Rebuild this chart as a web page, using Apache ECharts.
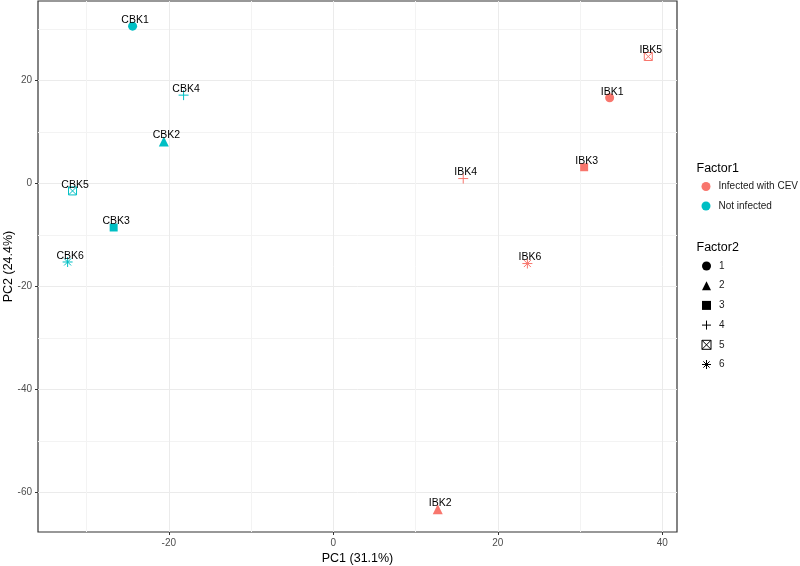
<!DOCTYPE html>
<html>
<head>
<meta charset="utf-8">
<script src="https://cdn.jsdelivr.net/npm/echarts@6/dist/echarts.min.js"></script>
<style>html,body{margin:0;padding:0;background:#fff}#c{width:800px;height:566px}</style>
</head>
<body>
<div id="c"></div>
<script>
// ---- data ----
const factor1Levels = ['Infected with CEV', 'Not infected'];
const factor1Colors = ['#F8766D', '#00BFC4'];
const factor2Levels = ['1', '2', '3', '4', '5', '6'];
const cbkNames = ['CBK1', 'CBK2', 'CBK3', 'CBK4', 'CBK5', 'CBK6'];
const cbkPC1 = [-24.4, -20.6, -26.7, -18.2, -31.7, -32.3];
const cbkPC2 = [30.6, 8.2, -8.5, 17.2, -1.4, -15.2];
const ibkNames = ['IBK1', 'IBK2', 'IBK3', 'IBK4', 'IBK5', 'IBK6'];
const ibkPC1 = [33.6, 12.7, 30.5, 15.8, 38.3, 23.6];
const ibkPC2 = [16.7, -63.2, 3.2, 1.0, 24.7, -15.5];
const xTicks = [-20, 0, 20, 40];
const yTicks = [-60, -40, -20, 0, 20];
const xTitle = 'PC1 (31.1%)';
const yTitle = 'PC2 (24.4%)';

// ---- shapes (ggplot pch 16,17,15,3,7,8) ----
const shapes = [
  { symbol: 'circle', size: 9, filled: true },
  { symbol: 'triangle', size: 10, filled: true },
  { symbol: 'rect', size: 8, filled: true },
  { symbol: 'path://M5,0L5,10M0,5L10,5', size: 10, filled: false },
  { symbol: 'path://M0,0L10,0L10,10L0,10ZM0,0L10,10M10,0L0,10', size: 8, filled: false },
  { symbol: 'path://M5,0L5,10M0,5L10,5M1.5,1.5L8.5,8.5M8.5,1.5L1.5,8.5', size: 10, filled: false }
];

const FONT = 'Liberation Sans, Arial, Helvetica, sans-serif';

function styleFor(color, shape) {
  return shape.filled
    ? { color: color, borderWidth: 0, opacity: 1 }
    : { color: 'rgba(0,0,0,0)', borderColor: color, borderWidth: 1, opacity: 1 };
}

const series = [];
factor2Levels.forEach((lvl, k) => {
  const sh = shapes[k];
  series.push({
    type: 'scatter',
    name: lvl,
    symbol: sh.symbol,
    symbolSize: sh.size,
    z: 3,
    itemStyle: { opacity: 1 },
    label: {
      show: true, position: 'inside', offset: [2.5, -6],
      formatter: p => p.name, color: '#000', fontSize: 10.5, fontFamily: FONT
    },
    emphasis: { disabled: true },
    data: [
      { name: cbkNames[k], value: [cbkPC1[k], cbkPC2[k]], itemStyle: styleFor(factor1Colors[1], sh) },
      { name: ibkNames[k], value: [ibkPC1[k], ibkPC2[k]], itemStyle: styleFor(factor1Colors[0], sh) }
    ]
  });
});
factor1Levels.forEach((lvl, i) => {
  series.push({ type: 'scatter', name: lvl, data: [], itemStyle: { color: factor1Colors[i], opacity: 1 } });
});

const legendCommon = {
  orient: 'vertical', left: 701.5, padding: 0, itemWidth: 9, itemHeight: 9,
  selectedMode: false,
  textStyle: { fontSize: 10, fontFamily: FONT, color: '#1a1a1a', lineHeight: 12, padding: [0, 0, 0, 3] }
};

function axisCommon(ticks) {
  return {
    axisLine: { show: false, onZero: false },
    axisTick: { show: true, inside: false, length: 3, customValues: ticks, lineStyle: { color: '#333', width: 1 } },
    axisLabel: { customValues: ticks, margin: 6, fontSize: 10, fontFamily: FONT, color: '#4d4d4d' },
    splitLine: { show: true, lineStyle: { color: '#ebebeb', width: 1 } },
    minorTick: { show: false, splitNumber: 2 },
    minorSplitLine: { show: true, lineStyle: { color: '#f3f3f3', width: 1 } },
    nameTextStyle: { fontSize: 12.5, fontFamily: FONT, color: '#000' },
    nameMoveOverlap: false
  };
}

const option = {
  animation: false,
  backgroundColor: '#ffffff',
  title: [
    { text: 'Factor1', left: 696.5, top: 162, padding: 0,
      textStyle: { fontSize: 12.5, fontWeight: 'normal', fontFamily: FONT, color: '#000', lineHeight: 14 } },
    { text: 'Factor2', left: 696.5, top: 241, padding: 0,
      textStyle: { fontSize: 12.5, fontWeight: 'normal', fontFamily: FONT, color: '#000', lineHeight: 14 } }
  ],
  legend: [
    Object.assign({}, legendCommon, {
      top: 180.5, itemGap: 7.5,
      data: factor1Levels.map((n, i) => ({ name: n, icon: 'circle', itemStyle: { color: factor1Colors[i], borderWidth: 0, opacity: 1 } }))
    }),
    Object.assign({}, legendCommon, {
      top: 260, itemGap: 7.7,
      data: factor2Levels.map((n, k) => ({
        name: n, icon: shapes[k].symbol,
        itemStyle: shapes[k].filled ? { color: '#000', borderWidth: 0, opacity: 1 } : { color: 'rgba(0,0,0,0)', borderColor: '#000', borderWidth: 1, opacity: 1 }
      }))
    })
  ],
  grid: {
    left: 38, right: 123, top: 1, bottom: 34,
    containLabel: false, outerBoundsMode: 'none',
    show: true, borderColor: '#333333', borderWidth: 1.2, backgroundColor: '#ffffff'
  },
  xAxis: Object.assign(axisCommon(xTicks), {
    type: 'value', position: 'bottom', min: -35.9, max: 41.79, splitNumber: 4,
    name: xTitle, nameLocation: 'middle', nameGap: 20
  }),
  yAxis: Object.assign(axisCommon(yTicks), {
    type: 'value', position: 'left', min: -67.63, max: 35.48, splitNumber: 5,
    name: yTitle, nameLocation: 'middle', nameGap: 23, nameRotate: 90
  }),
  series: series
};

const chart = echarts.init(document.getElementById('c'), null, { renderer: 'canvas' });
chart.setOption(option);
</script>
</body>
</html>
